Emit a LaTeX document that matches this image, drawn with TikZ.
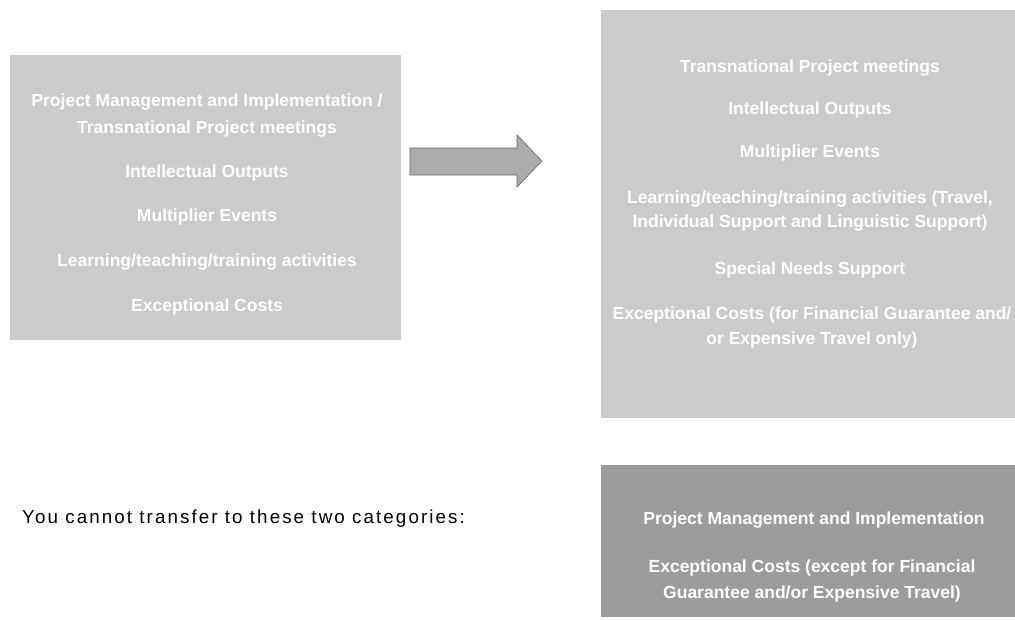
\documentclass[tikz,border=0pt]{standalone}
\usepackage{fontspec}
\setmainfont{Liberation Sans}
\newfontfamily\spacedfont[LetterSpace=11]{Liberation Sans}
\definecolor{lightbox}{HTML}{CBCBCB}
\definecolor{darkbox}{HTML}{9C9C9C}
\definecolor{arrowgray}{HTML}{ABABAB}
\tikzset{
  boxtext/.style={text=white, font=\fontsize{17.5}{21}\selectfont\bfseries, align=center, inner sep=0pt},
  plaintext/.style={text=black, font=\spacedfont\fontsize{18.8}{22}\selectfont, inner sep=0pt, anchor=west},
  arrowshape/.style={fill=arrowgray, draw=gray!80!black, line width=0.6pt},
}
\begin{document}
\begin{tikzpicture}[x=1pt,y=-1pt]
\useasboundingbox (0,0) rectangle (1015,619);
\fill[white] (0,0) rectangle (1015,619);
% boxes
\fill[lightbox] (10,55) rectangle (401,340);
\fill[lightbox] (601,10) rectangle (1015,418);
\fill[darkbox] (601,465) rectangle (1015,617);
% left box text
\node[boxtext] (l1) at (207,116) {Project Management and Implementation /\\[6pt]Transnational Project meetings};
\node[boxtext] (l2) at (207,173) {Intellectual Outputs};
\node[boxtext] (l3) at (207,217) {Multiplier Events};
\node[boxtext] (l4) at (207,262) {Learning/teaching/training activities};
\node[boxtext] (l5) at (207,307) {Exceptional Costs};
% arrow
\path[arrowshape] (410,148) -- (517,148) -- (517,135) -- (542,161) -- (517,187) -- (517,175) -- (410,175) -- cycle;
% right box text
\node[boxtext] (r1) at (810,68) {Transnational Project meetings};
\node[boxtext] (r2) at (810,110) {Intellectual Outputs};
\node[boxtext] (r3) at (810,153) {Multiplier Events};
\node[boxtext] (r4) at (810,211) {Learning/teaching/training activities (Travel,\\[3pt]Individual Support and Linguistic Support)};
\node[boxtext] (r5) at (810,270) {Special Needs Support};
\node[boxtext] (r6) at (812,327) {Exceptional Costs (for Financial Guarantee and/\\[4pt]or Expensive Travel only)};
% bottom
\node[plaintext] (note) at (22,519) {You cannot transfer to these two categories:};
\node[boxtext] (b1) at (814,520) {Project Management and Implementation};
\node[boxtext] (b2) at (812,581) {Exceptional Costs (except for Financial\\[5pt]Guarantee and/or Expensive Travel)};
\end{tikzpicture}
\end{document}
